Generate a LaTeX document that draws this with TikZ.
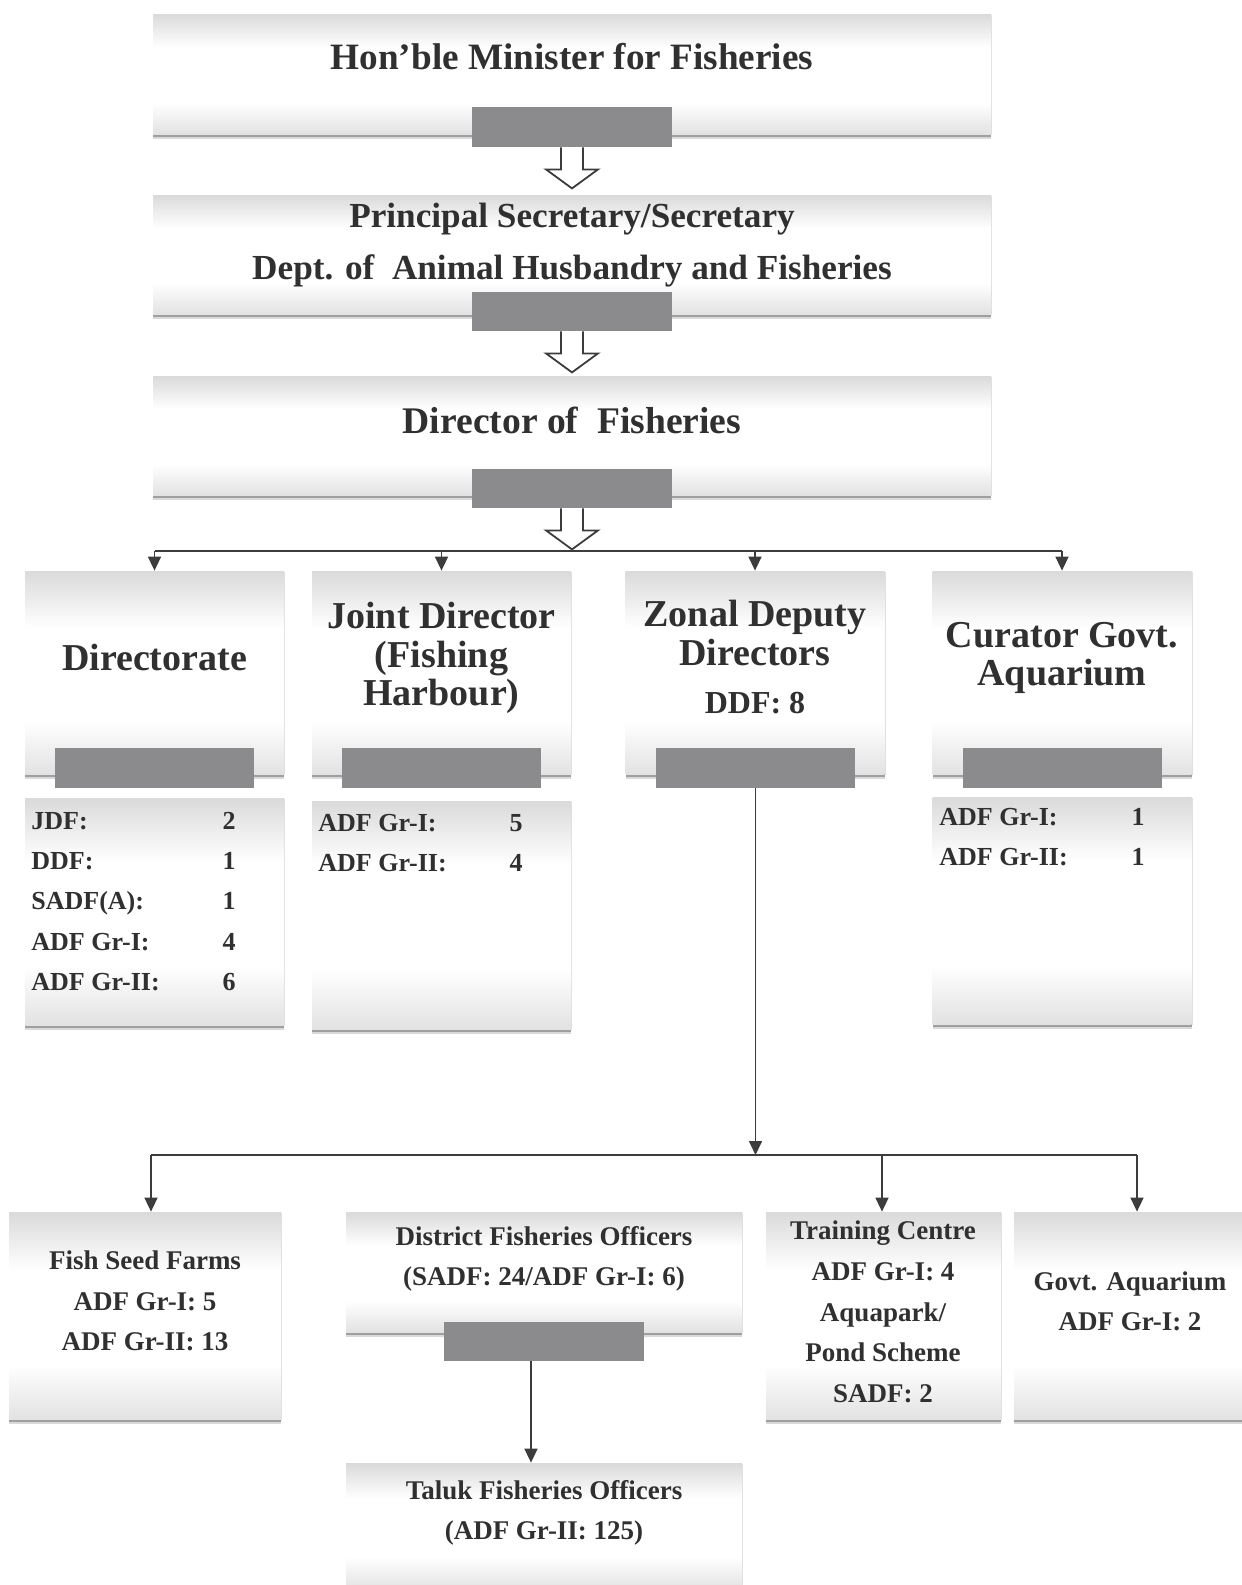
\documentclass[tikz,border=0pt]{standalone}
\usepackage{fontspec}
\setmainfont{Liberation Serif}
\usetikzlibrary{shadows,arrows.meta,calc}
\definecolor{txtc}{HTML}{303030}
\definecolor{tabgray}{HTML}{8B8B8D}
\definecolor{linec}{HTML}{3C3C3C}
\definecolor{shtop}{HTML}{DADADA}
\definecolor{shbot}{HTML}{E2E2E2}
\pgfdeclareverticalshading{boxshade}{100bp}{color(0bp)=(shbot); color(25bp)=(shbot); color(38bp)=(white); color(61bp)=(white); color(75bp)=(shtop); color(100bp)=(shtop)}
\newcommand\hollowdown[1]{%
  \draw[hollow] ($(#1)+(11,0)$) -- ($(#1)+(11,22)$) -- ($(#1)+(26,22)$) -- ($(#1)+(0,41)$) -- ($(#1)+(-26,22)$) -- ($(#1)+(-11,22)$) -- ($(#1)+(-11,0)$);}
\begin{document}
\begin{tikzpicture}[x=0.5pt,y=-0.5pt,
  box/.style={rectangle, draw=none, inner sep=0, shading=boxshade,
    drop shadow={shadow xshift=0pt, shadow yshift=-2.6pt, opacity=0.15, fill=black},
    drop shadow={shadow xshift=0pt, shadow yshift=-1.4pt, opacity=0.35, fill=black!80},
    drop shadow={shadow xshift=0.6pt, shadow yshift=-0.4pt, opacity=0.12, fill=black}},
  tab/.style={rectangle, fill=tabgray, draw=none, inner sep=0},
  txt/.style={text=txtc, align=center, inner sep=0, font=\bfseries},
  ttop/.style={txt, font=\bfseries\fontsize{18.6pt}{22pt}\selectfont},
  tsec/.style={txt, font=\bfseries\fontsize{17.6pt}{26pt}\selectfont},
  tdir/.style={txt, font=\bfseries\fontsize{18.8pt}{22pt}\selectfont},
  thead/.style={txt, font=\bfseries\fontsize{19pt}{19.25pt}\selectfont},
  tddf/.style={txt, font=\bfseries\fontsize{16pt}{19pt}\selectfont},
  tlow/.style={txt, font=\bfseries\fontsize{13.5pt}{20.3pt}\selectfont},
  lab/.style={txt, anchor=base west, font=\bfseries\fontsize{13pt}{16pt}\selectfont},
  val/.style={txt, anchor=base, font=\bfseries\fontsize{13pt}{16pt}\selectfont},
  conn/.style={draw=linec, line width=0.8pt},
  arr/.style={conn, -{Triangle[length=7pt,width=6.5pt]}},
  hollow/.style={draw=linec, fill=white, line width=0.9pt, line join=miter}
]
\useasboundingbox (0,0) rectangle (1242,1585);
\fill[white] (0,0) rectangle (1242,1585);
\clip (0,0) rectangle (1242,1585);

% ---- top chain ----
\node[box, minimum width=419pt, minimum height=60pt] (b1) at (572,74) {};
\node[box, minimum width=419pt, minimum height=59.5pt] (b2) at (572,254.5) {};
\node[box, minimum width=419pt, minimum height=59.5pt] (b3) at (572,435.5) {};
\node[ttop] (b1t) at (572,57) {Hon’ble Minister for Fisheries};
\node[tsec] (b2t) at (572,245) {Principal Secretary/Secretary\\Dept. of\ \ Animal Husbandry and Fisheries};
\node[tdir] (b3t) at (572,420) {Director of\ \ Fisheries};
\node[tab, minimum width=100pt, minimum height=20pt] (t1) at (572,127) {};
\node[tab, minimum width=100pt, minimum height=19.5pt] (t2) at (572,311.5) {};
\node[tab, minimum width=100pt, minimum height=19.5pt] (t3) at (572,488.5) {};
\hollowdown{t1.south}
\hollowdown{t2.south}
\hollowdown{t3.south}

% ---- second row ----
\node[box, minimum width=129.5pt, minimum height=101.5pt] (dir) at (154.5,672.5) {};
\node[box, minimum width=129.5pt, minimum height=101.5pt] (jd) at (441.5,672.5) {};
\node[box, minimum width=129.5pt, minimum height=101.5pt] (zon) at (755,672.5) {};
\node[box, minimum width=129.5pt, minimum height=101.5pt] (cur) at (1062,672.5) {};
\node[tab, minimum width=99.5pt, minimum height=20pt] (dirtab) at (154.5,768) {};
\node[tab, minimum width=99.5pt, minimum height=20pt] (jdtab) at (441.5,768) {};
\node[tab, minimum width=99.5pt, minimum height=20pt] (zontab) at (755.5,768) {};
\node[tab, minimum width=99.5pt, minimum height=20pt] (curtab) at (1062.5,768) {};
\node[thead] (dirt) at (154.5,657) {Directorate};
\node[thead] (jdt) at (441.5,658) {Joint Director\\(Fishing\\Harbour)};
\node[thead] (zont) at (755,633) {Zonal Deputy\\Directors};
\node[tddf] (zonddf) at (755,703) {DDF: 8};
\node[thead] (curt) at (1062,658) {Curator Govt.\\Aquarium};

% bus 1
\coordinate (bus1L) at (154.5,551);
\coordinate (bus1R) at (1062,551);
\draw[conn] (bus1L) -- (bus1R);
\draw[arr] (dir.north |- bus1L) -- (dir.north);
\draw[arr] (jd.north |- bus1L) -- (jd.north);
\draw[arr] (zon.north |- bus1L) -- (zon.north);
\draw[arr] (cur.north |- bus1L) -- (cur.north);

% ---- staff lists ----
\node[box, minimum width=129.5pt, minimum height=113.5pt] (dirl) at (154.5,911.5) {};
\node[box, minimum width=129.5pt, minimum height=114pt] (jdl) at (441.5,915) {};
\node[box, minimum width=129.5pt, minimum height=113.5pt] (curl) at (1062,910.5) {};
\node[lab] (dl1) at (31,829) {JDF:};       \node[val] (dv1) at (229,829) {2};
\node[lab] (dl2) at (31,869) {DDF:};       \node[val] (dv2) at (229,869) {1};
\node[lab] (dl3) at (31,909) {SADF(A):};   \node[val] (dv3) at (229,909) {1};
\node[lab] (dl4) at (31,950) {ADF Gr-I:};  \node[val] (dv4) at (229,950) {4};
\node[lab] (dl5) at (31,990) {ADF Gr-II:}; \node[val] (dv5) at (229,990) {6};
\node[lab] (jl1) at (318,831) {ADF Gr-I:};  \node[val] (jv1) at (516,831) {5};
\node[lab] (jl2) at (318,871) {ADF Gr-II:}; \node[val] (jv2) at (516,871) {4};
\node[lab] (cl1) at (939,825) {ADF Gr-I:};  \node[val] (cv1) at (1138,825) {1};
\node[lab] (cl2) at (939,865) {ADF Gr-II:}; \node[val] (cv2) at (1138,865) {1};

% ---- bottom row ----
\node[box, minimum width=136pt, minimum height=103.5pt] (fish) at (145,1315.5) {};
\node[box, minimum width=198pt, minimum height=60pt] (dist) at (544,1272) {};
\node[box, minimum width=117.5pt, minimum height=103.5pt] (train) at (883.5,1315.5) {};
\node[box, minimum width=116pt, minimum height=103.5pt] (aq) at (1130,1315.5) {};
\node[box, minimum width=198pt, minimum height=63.5pt] (taluk) at (544,1526.5) {};
\node[tab, minimum width=100pt, minimum height=19.5pt] (disttab) at (544,1341.5) {};
\node[tlow] (fisht) at (145,1301) {Fish Seed Farms\\ADF Gr-I: 5\\ADF Gr-II: 13};
\node[tlow] (distt) at (544,1259) {District Fisheries Officers\\(SADF: 24/ADF Gr-I: 6)};
\node[tlow] (traint) at (883,1312) {Training Centre\\ADF Gr-I: 4\\Aquapark/\\Pond Scheme\\SADF: 2};
\node[tlow] (aqt) at (1130,1301.5) {Govt. Aquarium\\ADF Gr-I: 2};
\node[tlow] (talukt) at (544,1513) {Taluk Fisheries Officers\\(ADF Gr-II: 125)};

% bus 2
\coordinate (bus2L) at (151,1155);
\coordinate (bus2C) at (882,1155);
\coordinate (bus2R) at (1137,1155);
\draw[conn] (bus2L) -- (bus2R);
\draw[arr] (zontab.south) -- (zontab.south |- bus2L);
\draw[arr] (bus2L) -- (bus2L |- fish.north);
\draw[arr] (bus2C) -- (bus2C |- train.north);
\draw[arr] (bus2R) -- (bus2R |- aq.north);

% district -> taluk
\coordinate (dx) at (531,1361);
\draw[arr] (dx |- disttab.south) -- (dx |- taluk.north);
\end{tikzpicture}
\end{document}
